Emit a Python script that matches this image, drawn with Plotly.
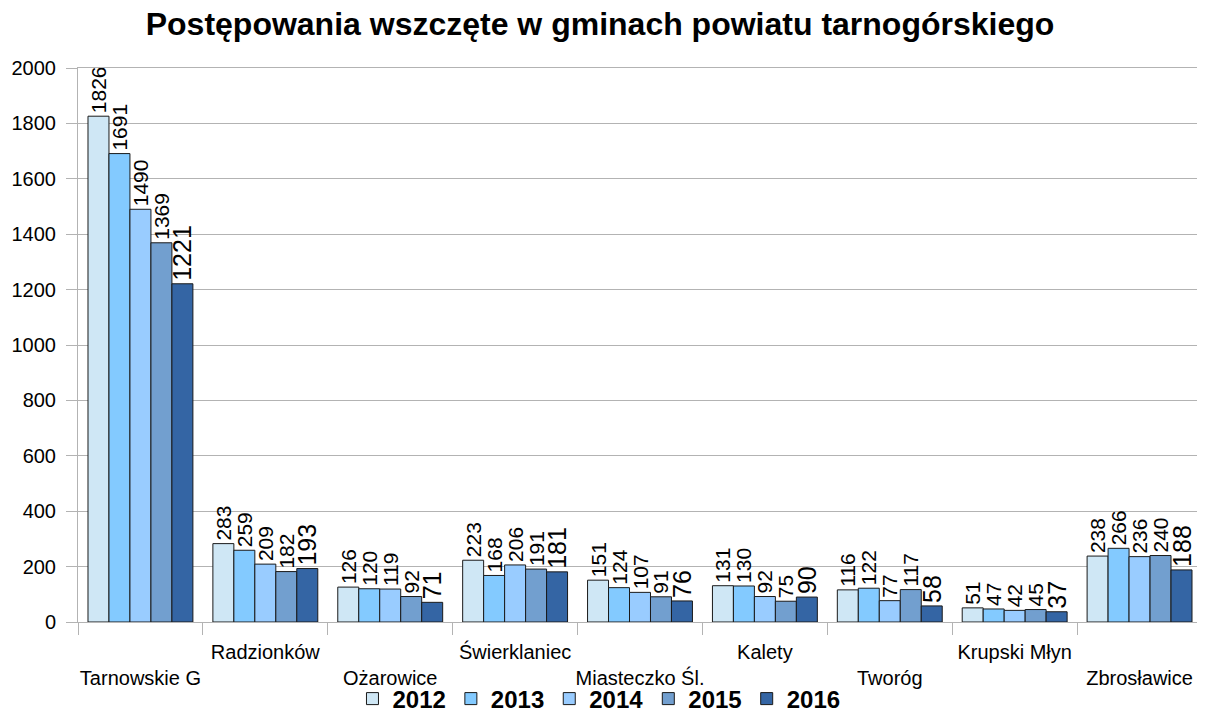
import plotly.graph_objects as go

categories = ["Tarnowskie G", "Radzionków", "Ożarowice", "Świerklaniec", "Miasteczko Śl.",
              "Kalety", "Tworóg", "Krupski Młyn", "Zbrosławice"]
years = ["2012", "2013", "2014", "2015", "2016"]
v2012 = [1826, 283, 126, 223, 151, 131, 116, 51, 238]
v2013 = [1691, 259, 120, 168, 124, 130, 122, 47, 266]
v2014 = [1490, 209, 119, 206, 107, 92, 77, 42, 236]
v2015 = [1369, 182, 92, 191, 91, 75, 117, 45, 240]
v2016 = [1221, 193, 71, 181, 76, 90, 58, 37, 188]
series = [v2012, v2013, v2014, v2015, v2016]
colors = ["#cfe7f5", "#83caff", "#99ccff", "#729fcf", "#3465a4"]
text_sizes = [21, 21, 21, 21, 25]
y_ticks = list(range(0, 2001, 200))

# staggered category labels: even index on lower row, odd index on upper row
tick_text = [("<br>" + c) if i % 2 == 0 else (c + "<br> ") for i, c in enumerate(categories)]

FONT = "Liberation Sans, Arial, sans-serif"
fig = go.Figure()
for yr, vals, col, ts in zip(years, series, colors, text_sizes):
    fig.add_trace(go.Bar(
        name=yr, x=categories, y=vals, marker=dict(color=col, line=dict(color="#1a1a1a", width=1)),
        text=[str(v) for v in vals], textposition="outside", textangle=-90,
        textfont=dict(size=ts, color="#000000", family=FONT),
        constraintext="none", cliponaxis=False,
    ))

# the page body adds an 8px offset, so the figure is 8px smaller and margins shifted
W, H = 1197, 704
fig.update_layout(
    width=W, height=H,
    barmode="group", bargap=0.16, bargroupgap=0,
    plot_bgcolor="white", paper_bgcolor="white",
    margin=dict(l=70, r=3, t=60, b=90, autoexpand=False),
    font=dict(family=FONT, color="#000000"),
    title=dict(text="<b>Postępowania wszczęte w gminach powiatu tarnogórskiego</b>",
               x=592 / W, xanchor="center", xref="container",
               y=1 - 16 / H, yanchor="middle", yref="container",
               font=dict(size=32, family=FONT, color="#000000"), automargin=False),
    showlegend=True,
    legend=dict(orientation="h", x=0.4635, xanchor="center", xref="paper",
                y=13 / H, yanchor="middle", yref="container",
                font=dict(size=24, family=FONT, color="#000000", weight="bold"),
                itemwidth=30, traceorder="normal", bgcolor="rgba(0,0,0,0)"),
)
fig.update_xaxes(
    type="category", tickmode="array", tickvals=categories, ticktext=tick_text,
    tickson="boundaries", ticks="outside", ticklen=12, tickcolor="#b3b3b3",
    showline=True, linecolor="#b3b3b3", linewidth=1, mirror=True,
    showgrid=False, tickfont=dict(size=20, family=FONT, color="#000000"),
    tickangle=0, automargin=False, ticklabelstandoff=12,
)
fig.update_yaxes(
    range=[0, 2000], tickmode="array", tickvals=y_ticks,
    ticks="outside", ticklen=11, tickcolor="#b3b3b3",
    showline=True, linecolor="#b3b3b3", linewidth=1, mirror=True,
    showgrid=True, gridcolor="#b3b3b3", gridwidth=1, zeroline=False,
    tickfont=dict(size=20, family=FONT, color="#000000"),
    automargin=False, ticklabelstandoff=6,
)

fig.write_html("out.html")
